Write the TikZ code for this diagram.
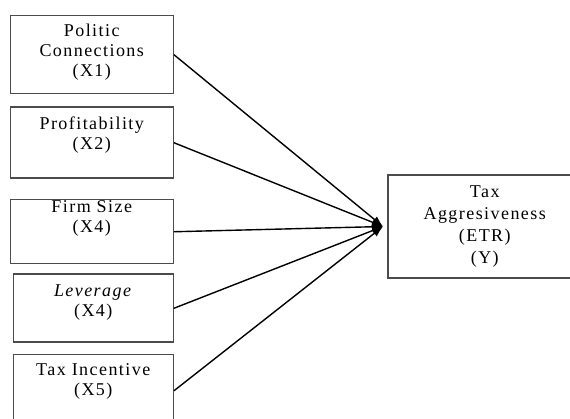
\documentclass[tikz,border=0pt]{standalone}
\usepackage{fontspec}
\setmainfont[LetterSpace=8]{Liberation Serif}
\usetikzlibrary{positioning,arrows.meta}

\begin{document}
\begin{tikzpicture}[x=1pt, y=1pt, >={Latex[length=11pt,width=8pt]},
    varbox/.style={draw=black!70, line width=1.5pt, inner sep=0pt,
        align=center, font=\fontsize{18}{20}\selectfont},
    link/.style={->, line width=1.4pt}]
    \useasboundingbox (0,0) rectangle (570,-419);
    \clip (0,0) rectangle (570,-419);
    % Independent variables
    \node [varbox,
        minimum width=163pt,
        minimum height=78pt,
        text depth=8pt,
        anchor=north east
    ]  (Politic) at (174,-15) {Politic\\Connections\\(X1)};
    \node [varbox,
        minimum width=163pt,
        minimum height=71pt,
        text depth=19pt,
        below left=12pt and 0pt of Politic.south east
    ]  (Profitability) {Profitability\\(X2)};
    \node [varbox,
        minimum width=163pt,
        minimum height=64pt,
        text depth=31pt,
        below left=20pt and 0pt of Profitability.south east
    ]  (FirmSize) {Firm Size\\(X4)};
    \node [varbox,
        minimum width=160pt,
        minimum height=68pt,
        text depth=16pt,
        below left=9pt and 0pt of FirmSize.south east
    ]  (Leverage) {\textit{Leverage}\\(X4)};
    \node [varbox,
        minimum width=160pt,
        minimum height=72pt,
        text depth=22pt,
        below left=11pt and 0pt of Leverage.south east
    ]  (TaxIncentive) {Tax Incentive\\(X5)};
    % Dependent variable
    \node [varbox,
        minimum width=194pt,
        minimum height=103pt,
        font=\fontsize{18}{22}\selectfont,
        anchor=west
    ]  (TaxAggr) at (387,-226.5) {Tax\\Aggresiveness\\(ETR)\\(Y)};
    \coordinate [left=4pt of TaxAggr.west] (hub);

    \foreach \src in {Politic,Profitability,FirmSize,Leverage,TaxIncentive}
        \draw[link] (\src.east) -- (hub);
\end{tikzpicture}
\end{document}
